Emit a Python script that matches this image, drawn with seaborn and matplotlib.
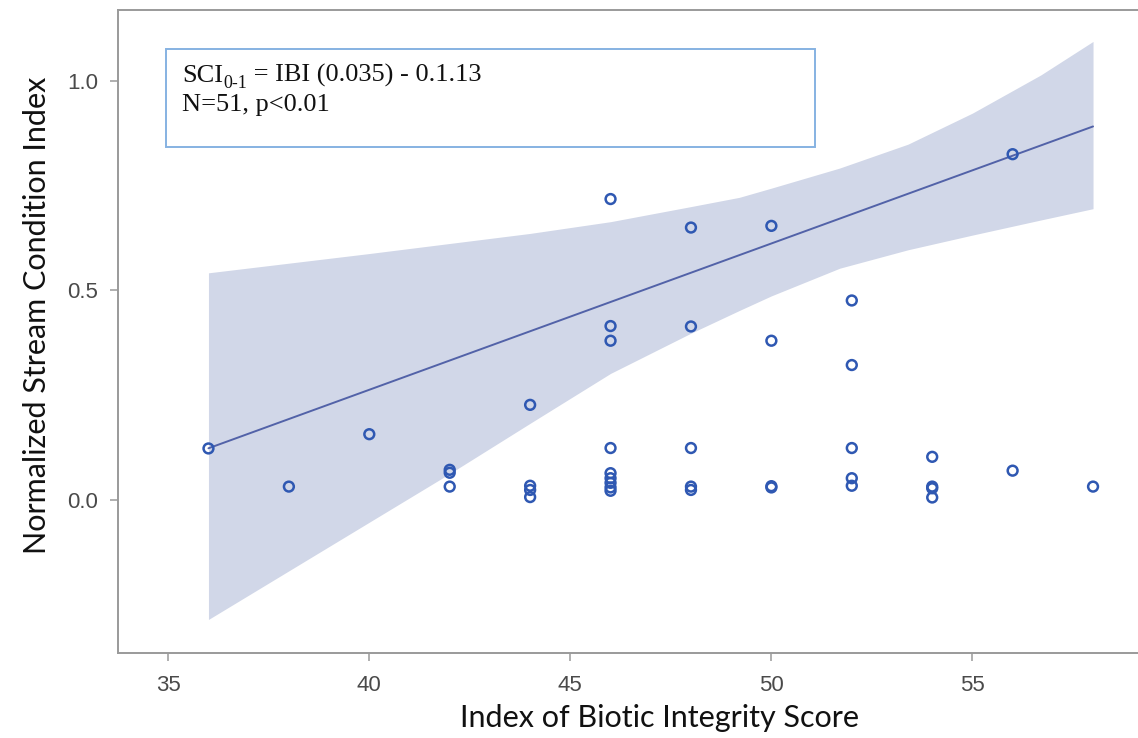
import numpy as np
import pandas as pd
import matplotlib
matplotlib.use("Agg")
import matplotlib.pyplot as plt
import seaborn as sns
from matplotlib.patches import Rectangle

# ---------------- data ----------------
ibi_score = [36,
             38,
             40,
             42, 42, 42,
             44, 44, 44, 44,
             46, 46, 46, 46, 46, 46, 46, 46, 46,
             48, 48, 48, 48, 48,
             50, 50, 50, 50,
             52, 52, 52, 52, 52,
             54, 54, 54, 54,
             56, 56,
             58]
sci_value = [0.123,
             0.032,
             0.157,
             0.072, 0.065, 0.032,
             0.227, 0.034, 0.024, 0.007,
             0.718, 0.415, 0.380, 0.124, 0.064, 0.052, 0.041, 0.030, 0.022,
             0.650, 0.414, 0.124, 0.032, 0.024,
             0.654, 0.380, 0.033, 0.030,
             0.476, 0.322, 0.124, 0.052, 0.034,
             0.103, 0.032, 0.028, 0.006,
             0.825, 0.070,
             0.032]

# fitted line and its confidence band
fit_range = [36, 58]
fit_slope = 0.0349
fit_intercept = -1.133
band_x = [36, 38, 40, 42, 44, 46, 48, 49.2, 50, 51.7, 53.4, 55.0, 56.7, 58]
band_upper = [0.542, 0.565, 0.588, 0.612, 0.636, 0.664, 0.700, 0.722, 0.744, 0.792,
              0.849, 0.923, 1.014, 1.094]
band_lower = [-0.285, -0.169, -0.053, 0.063, 0.183, 0.302, 0.398, 0.452, 0.487, 0.553,
              0.597, 0.632, 0.668, 0.695]

x_ticks = [35, 40, 45, 50, 55]
y_ticks = [0.0, 0.5, 1.0]
y_tick_labels = ["0.0", "0.5", "1.0"]
x_label = "Index of Biotic Integrity Score"
y_label = "Normalized Stream Condition Index"
eq_main = "SCI"
eq_sub = "0-1"
eq_rest = " = IBI (0.035) - 0.1.13"
eq_line2 = "N=51, p<0.01"

# ---------------- styling ----------------
sns.set_theme(style="white")
plt.rcParams['font.family'] = ['Liberation Sans', 'DejaVu Sans']

W, H = 1138, 738
fig = plt.figure(figsize=(W / 100, H / 100), dpi=100)
fig.patch.set_facecolor("white")
ax = fig.add_axes([117.6 / W, (H - 653) / H, (1202 - 117.6) / W, (653 - 10) / H])
ax.set_facecolor("white")

band_color = "#d1d7e8"
line_color = "#5262a8"
point_color = "#2f58b2"

ax.fill_between(band_x, band_lower, band_upper, color=band_color, linewidth=0, zorder=1)

fit_df = pd.DataFrame({"x": fit_range})
fit_df["y"] = fit_intercept + fit_slope * fit_df["x"]
sns.lineplot(data=fit_df, x="x", y="y", ax=ax, color=line_color, linewidth=1.4, zorder=2)

pts = pd.DataFrame({"ibi": ibi_score, "sci": sci_value})
sns.scatterplot(data=pts, x="ibi", y="sci", ax=ax, marker="o", s=50,
                facecolors="none", edgecolor=point_color, linewidth=1.8, zorder=3)

ax.set_xlim(33.74, 60.71)
ax.set_ylim(-0.365, 1.169)
ax.set_xticks(x_ticks)
ax.set_xticklabels([str(t) for t in x_ticks])
ax.set_yticks(y_ticks)
ax.set_yticklabels(y_tick_labels)

spine_color = "#9a9a9a"
for side in ["left", "bottom", "top"]:
    ax.spines[side].set_visible(True)
    ax.spines[side].set_color(spine_color)
    ax.spines[side].set_linewidth(1.4)
ax.spines["right"].set_visible(False)

ax.tick_params(axis="both", which="major", direction="out", length=6, width=1.1,
               color=spine_color, labelcolor="#4a4a4a", labelsize=16,
               bottom=True, left=True)
ax.tick_params(axis="x", pad=10)
ax.tick_params(axis="y", pad=8)

lab_font = ["Lato", "DejaVu Sans"]
ax.set_xlabel(x_label, fontsize=22, color="#111111", family=lab_font)
ax.set_ylabel(y_label, fontsize=22, color="#111111", family=lab_font)
ax.xaxis.set_label_coords(0.5, (653 - 704) / 643)
ax.yaxis.set_label_coords((51 - 117.6) / (1202 - 117.6), (653 - 315) / 643)

# annotation box
fig.patches.append(Rectangle((165.5 / W, (H - 147) / H), (815 - 165.5) / W, 98 / H,
                             transform=fig.transFigure, facecolor="white",
                             edgecolor="#86b2e2", linewidth=1.4, zorder=5))

serif = ["Liberation Serif", "DejaVu Serif"]
fs = 19
y1 = (H - 82) / H
y2 = (H - 111) / H
x0 = 182 / W
fig.canvas.draw()
r = fig.canvas.get_renderer()
t1 = fig.text(x0, y1, eq_main, fontsize=fs, family=serif, va="baseline", ha="left",
              color="#111111", zorder=6)
bb1 = t1.get_window_extent(r)
t2 = fig.text(bb1.x1 / W, y1 - 6 / H, eq_sub, fontsize=fs * 0.68, family=serif,
              va="baseline", ha="left", color="#111111", zorder=6)
bb2 = t2.get_window_extent(r)
fig.text(bb2.x1 / W, y1, eq_rest, fontsize=fs, family=serif, va="baseline", ha="left",
         color="#111111", zorder=6)
fig.text(x0, y2, eq_line2, fontsize=fs, family=serif, va="baseline", ha="left",
         color="#111111", zorder=6)

fig.savefig("out.png", dpi=100, facecolor="white")
